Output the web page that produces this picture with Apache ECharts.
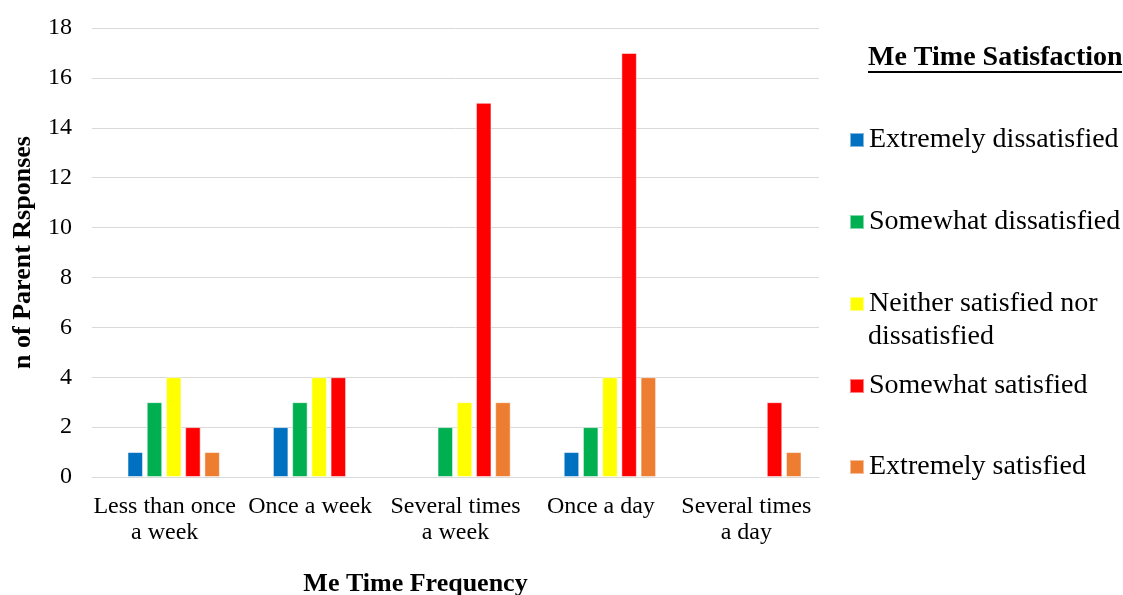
<!DOCTYPE html>
<html>
<head>
<meta charset="utf-8">
<script src="https://cdn.jsdelivr.net/npm/echarts@6/dist/echarts.min.js"></script>
<style>html,body{margin:0;padding:0;background:#fff}#c{width:1123px;height:595px}</style>
</head>
<body>
<div id="c"></div>
<script>
const categories = ['Less than once\na week', 'Once a week', 'Several times\na week', 'Once a day', 'Several times\na day'];
const seriesNames = ['Extremely dissatisfied', 'Somewhat dissatisfied', 'Neither satisfied nor dissatisfied', 'Somewhat satisfied', 'Extremely satisfied'];
const extremelyDissatisfied = [1, 2, 0, 1, 0];
const somewhatDissatisfied = [3, 3, 2, 2, 0];
const neither = [4, 4, 3, 4, 0];
const somewhatSatisfied = [2, 4, 15, 17, 3];
const extremelySatisfied = [1, 0, 3, 4, 1];
const colors = ['#0070C0', '#00B050', '#FFFF00', '#FF0000', '#ED7D31'];
const values = [extremelyDissatisfied, somewhatDissatisfied, neither, somewhatSatisfied, extremelySatisfied];

const FONT = '"Liberation Serif", "Times New Roman", serif';
const chart = echarts.init(document.getElementById('c'), null, {renderer: 'canvas'});

const legendTops = [124, 206, 288, 370, 451];
const legends = seriesNames.map((n, i) => ({
  data: [n],
  orient: 'vertical',
  left: 849,
  top: legendTops[i],
  padding: 0,
  itemWidth: 14,
  itemHeight: 14,
  itemGap: 0,
  icon: 'rect',
  selectedMode: false,
  formatter: name => name === 'Neither satisfied nor dissatisfied' ? 'Neither satisfied nor' : name,
  textStyle: {fontFamily: FONT, fontSize: 28, color: '#000', lineHeight: 32}
}));

chart.setOption({
  animation: false,
  textStyle: {fontFamily: FONT},
  grid: [
    {left: 92, right: 304, top: 28, bottom: 118, containLabel: false, outerBoundsMode: 'none'},
    {left: 101, right: 295, top: 28, bottom: 118, containLabel: false, outerBoundsMode: 'none'}
  ],
  legend: legends,
  graphic: [
    {type: 'text', x: 868, y: 58, style: {text: 'Me Time Satisfaction', font: 'bold 28px ' + FONT, fill: '#000', verticalAlign: 'middle'}},
    {type: 'rect', x: 868, y: 71, shape: {width: 254, height: 2}, style: {fill: '#000'}},
    {type: 'text', x: 868, y: 337, style: {text: 'dissatisfied', font: '28px ' + FONT, fill: '#000', verticalAlign: 'middle'}}
  ],
  xAxis: [{
    type: 'category',
    gridIndex: 0,
    data: categories,
    name: 'Me Time Frequency',
    nameLocation: 'middle',
    nameGap: 94,
    nameTextStyle: {fontFamily: FONT, fontSize: 26, fontWeight: 'bold', color: '#000', padding: [0, 80, 0, 0]},
    axisLine: {lineStyle: {color: '#d9d9d9', width: 1}},
    axisTick: {show: false},
    axisLabel: {fontFamily: FONT, fontSize: 24, color: '#000', lineHeight: 26, margin: 17, interval: 0}
  }, {
    type: 'category',
    gridIndex: 1,
    data: categories,
    show: false
  }],
  yAxis: [{
    type: 'value',
    gridIndex: 0,
    min: 0, max: 18, interval: 2,
    name: 'n of Parent Rsponses',
    nameLocation: 'middle',
    nameGap: 56,
    nameTextStyle: {fontFamily: FONT, fontSize: 26, fontWeight: 'bold', color: '#000'},
    axisLine: {show: false},
    axisTick: {show: false},
    splitLine: {lineStyle: {color: '#d9d9d9', width: 1}},
    axisLabel: {fontFamily: FONT, fontSize: 24, color: '#000', margin: 20}
  }, {
    type: 'value',
    gridIndex: 1,
    min: 0, max: 18, interval: 2,
    show: false,
    splitLine: {show: false}
  }],
  series: seriesNames.map((n, i) => ({
    name: n,
    type: 'bar',
    xAxisIndex: 1,
    yAxisIndex: 1,
    data: values[i].map(v => ({value: v, itemStyle: v === 0 ? {borderWidth: 0, opacity: 0} : undefined})),
    barWidth: 15.5,
    barGap: '24%',
    itemStyle: {color: colors[i], borderColor: 'rgba(255,255,255,0.5)', borderWidth: 1}
  }))
});
</script>
</body>
</html>
